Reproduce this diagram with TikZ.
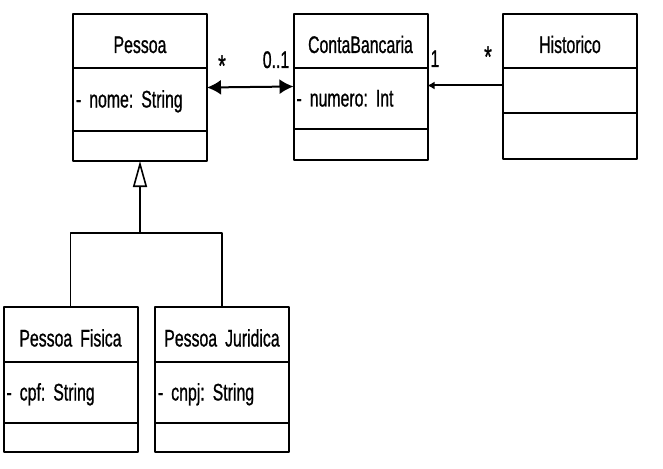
\documentclass[tikz,border=0pt]{standalone}
\usepackage{fontspec}
\setmainfont{Liberation Sans}[FakeStretch=0.66,FakeBold=0.8]
\usetikzlibrary{positioning,arrows.meta}

\newcommand\umlfont{\fontsize{24}{28}\selectfont\spaceskip=3.5pt plus 1pt\relax}

\tikzset{
  classname/.style={draw, line width=2pt, outer sep=0pt, inner xsep=3pt, inner ysep=0pt,
    minimum height=54pt, text width=128pt, align=center, text height=24pt, text depth=0pt,
    font=\umlfont},
  classattr/.style={classname, align=left, text height=16pt},
  classops/.style={classname, text height=0pt},
  mult/.style={inner sep=0pt, anchor=base, font=\umlfont},
  assoc/.style={line width=2pt},
  gen/.style={line width=1.6pt, -{Triangle[open,length=26pt,width=14pt]}}
}

\begin{document}
\frenchspacing
\begin{tikzpicture}[x=1pt,y=-1pt,line join=round]
      \path[use as bounding box, fill=white] (0,0) rectangle (663,468);

      % classes
      \node[classname] (pessoa) at (140,41) {Pessoa};
      \node[classattr, minimum height=63pt, below=0pt of pessoa] (pessoaAttr) {- nome: String};
      \node[classops, minimum height=30pt, below=0pt of pessoaAttr] (pessoaOps) {};

      \node[classname] (conta) at (360.5,41) {ContaBancaria};
      \node[classattr, minimum height=61pt, below=0pt of conta] (contaAttr) {- numero: Int};
      \node[classops, minimum height=31pt, below=0pt of contaAttr] (contaOps) {};

      \node[classname] (hist) at (570,41) {Historico};
      \node[classattr, minimum height=45pt, below=0pt of hist] (histAttr) {};
      \node[classops, minimum height=46pt, below=0pt of histAttr] (histOps) {};

      \node[classname, minimum height=55pt] (pf) at (70.5,334.5) {Pessoa Fisica};
      \node[classattr, minimum height=61pt, below=0pt of pf] (pfAttr) {- cpf: String};
      \node[classops, minimum height=29pt, below=0pt of pfAttr] (pfOps) {};

      \node[classname, minimum height=55pt] (pj) at (222,334.5) {Pessoa Juridica};
      \node[classattr, minimum height=61pt, below=0pt of pj] (pjAttr) {- cnpj: String};
      \node[classops, minimum height=29pt, below=0pt of pjAttr] (pjOps) {};

      % associations
      \draw[assoc, {Latex[length=14pt,width=15pt]}-{Latex[length=14pt,width=15pt]}]
            ([yshift=12pt]pessoaAttr.east) -- ([yshift=12pt]contaAttr.west);
      \draw[assoc, -{Latex[length=7pt,width=8pt]}]
            ([yshift=5pt]histAttr.west) -- ([yshift=13pt]contaAttr.east);
      \node[mult, font=\umlfont\fontsize{30}{30}\selectfont] (starPessoa) at (222,76) {*};
      \node[mult] (multConta) at (276,68) {0..1};
      \node[mult] (oneConta) at (435,67) {1};
      \node[mult, font=\umlfont\fontsize{30}{30}\selectfont] (starHist) at (488,67) {*};

      % generalization
      \coordinate (junc) at (140,233);
      \draw[gen] (pf.north) |- (junc) -- (pessoaOps.south);
      \draw[line width=1.6pt] (pj.north) |- (junc);
\end{tikzpicture}
\end{document}
